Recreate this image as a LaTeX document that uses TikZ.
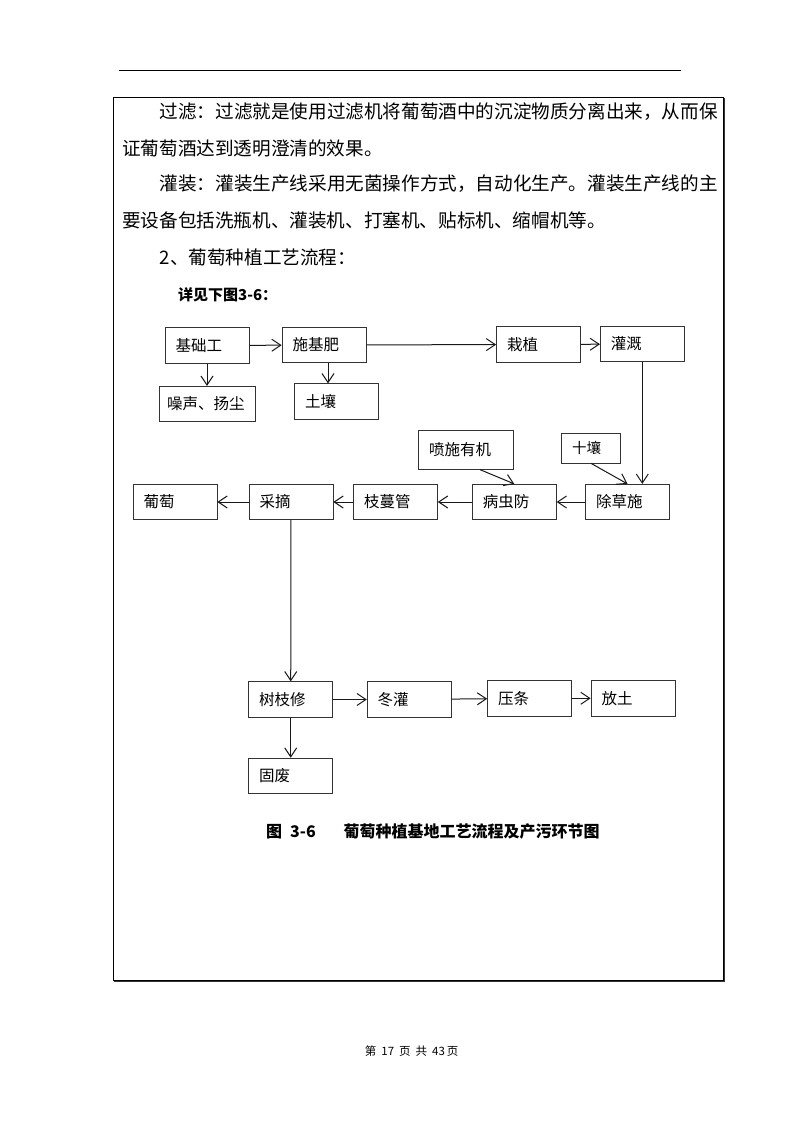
\documentclass[tikz,border=0pt]{standalone}
\usepackage{fontspec}
\usepackage{tikz}
\usetikzlibrary{arrows.meta}
\newfontfamily\cjk{Noto Sans CJK SC}
\tikzset{
  stepbox/.style={draw=black!80, line width=0.7pt, rectangle, text width=63pt, inner xsep=10.5pt,
    minimum height=35.5pt, align=left, font=\cjk\fontsize{15.5}{18}\selectfont},
  flow/.style={->, line width=1pt, draw=black!90},
  bodyline/.style={anchor=west, inner sep=0pt, font=\cjk\fontsize{18.6}{22}\selectfont},
  >={Straight Barb[length=9pt,width=12pt]}
}

\begin{document}
\begin{tikzpicture}[x=1pt, y=-1pt]
    \useasboundingbox (0,0) rectangle (800,1131);
    \fill[white] (0,0) rectangle (800,1131);

    % page rule and frame
    \draw[line width=0.9pt] (119.3,70) -- (680.7,70);
    \draw[line width=1.2pt] (113.3,97.3) rectangle (723.3,980.7);
    \draw[line width=0.8pt, black!80] (114.3,981.6) -- (724.2,981.6) -- (724.2,98.3);

    % text above the chart
    \node[bodyline] (p1) at (159.5,112) {过滤：过滤就是使用过滤机将葡萄酒中的沉淀物质分离出来，从而保};
    \node[bodyline] (p2) at (122,148) {证葡萄酒达到透明澄清的效果。};
    \node[bodyline] (p3) at (159.5,184) {灌装：灌装生产线采用无菌操作方式，自动化生产。灌装生产线的主};
    \node[bodyline] (p4) at (122,220) {要设备包括洗瓶机、灌装机、打塞机、贴标机、缩帽机等。};
    \node[bodyline] (p5) at (159.5,257) {2、葡萄种植工艺流程：};
    \node[bodyline, font=\cjk\bfseries\fontsize{15}{18}\selectfont] (see) at (178,295) {详见下图3-6：};

    % first row
    \node[stepbox] (jichu) at (207,345.5) {基础工};
    \node[stepbox] (shifei) at (324,345) {施基肥};
    \node[stepbox] (zaizhi) at (538.5,344.5) {栽植};
    \node[stepbox] (guangai) at (642.3,344) {灌溉};
    \node[stepbox, text width=80pt, inner xsep=8pt] (zaosheng) at (207,404) {噪声、扬尘};
    \node[stepbox] (turang) at (336.5,401.5) {土壤};

    \draw[flow] (jichu) -- (shifei);
    \draw[flow] (shifei) -- (zaizhi);
    \draw[flow] (zaizhi) -- (guangai);
    \draw[flow] (jichu) -- (zaosheng);
    \draw[flow] ([xshift=4pt]shifei.south) -- ([xshift=4pt]shifei.south |- turang.north);

    % second row, right to left
    \node[stepbox, text width=74pt, minimum height=38.6pt] (penshi) at (466,450) {喷施有机};
    \node[stepbox, text width=38pt, minimum height=30pt, font=\cjk\fontsize{14.5}{17}\selectfont] (shirang) at (591,448) {十壤};
    \node[stepbox] (putao) at (175,502) {葡萄};
    \node[stepbox] (caizhai) at (291,502) {采摘};
    \node[stepbox] (zhiman) at (395.5,502) {枝蔓管};
    \node[stepbox] (bingchong) at (514.3,502) {病虫防};
    \node[stepbox] (chucao) at (627.5,502) {除草施};

    \draw[flow] (guangai.south) -- (guangai.south |- chucao.north);
    \draw[flow] (shirang.south) -- (chucao.north);
    \draw[flow] ([xshift=14pt]penshi.south) -- (bingchong.north);
    \draw[flow] (chucao) -- (bingchong);
    \draw[flow] (bingchong) -- (zhiman);
    \draw[flow] (zhiman) -- (caizhai);
    \draw[flow] (caizhai) -- (putao);

    % third row
    \node[stepbox] (shuzhi) at (290.7,699.5) {树枝修};
    \node[stepbox] (donggai) at (409.2,699.5) {冬灌};
    \node[stepbox] (yatiao) at (529.5,698.3) {压条};
    \node[stepbox] (fangtu) at (633,698.3) {放土};
    \node[stepbox] (gufei) at (290.7,775.8) {固废};

    \draw[flow] (caizhai) -- (shuzhi);
    \draw[flow] (shuzhi) -- (donggai);
    \draw[flow] (donggai) -- (yatiao);
    \draw[flow] (yatiao) -- (fangtu);
    \draw[flow] (shuzhi) -- (gufei);

    % caption and footer
    \node[bodyline, font=\cjk\bfseries\fontsize{16}{19}\selectfont] (capnum) at (266,831.7) {图\hspace{8pt}3-6};
    \node[bodyline, font=\cjk\bfseries\fontsize{16}{19}\selectfont] (captext) at (343.3,831.7) {葡萄种植基地工艺流程及产污环节图};
    \node[inner sep=0pt, font=\cjk\fontsize{11.5}{13}\selectfont] (footer) at (411.7,1050.7)
      {第\hspace{5pt}17\hspace{5pt}页\hspace{5pt}共\hspace{5pt}43\hspace{2pt}页};
\end{tikzpicture}
\end{document}
